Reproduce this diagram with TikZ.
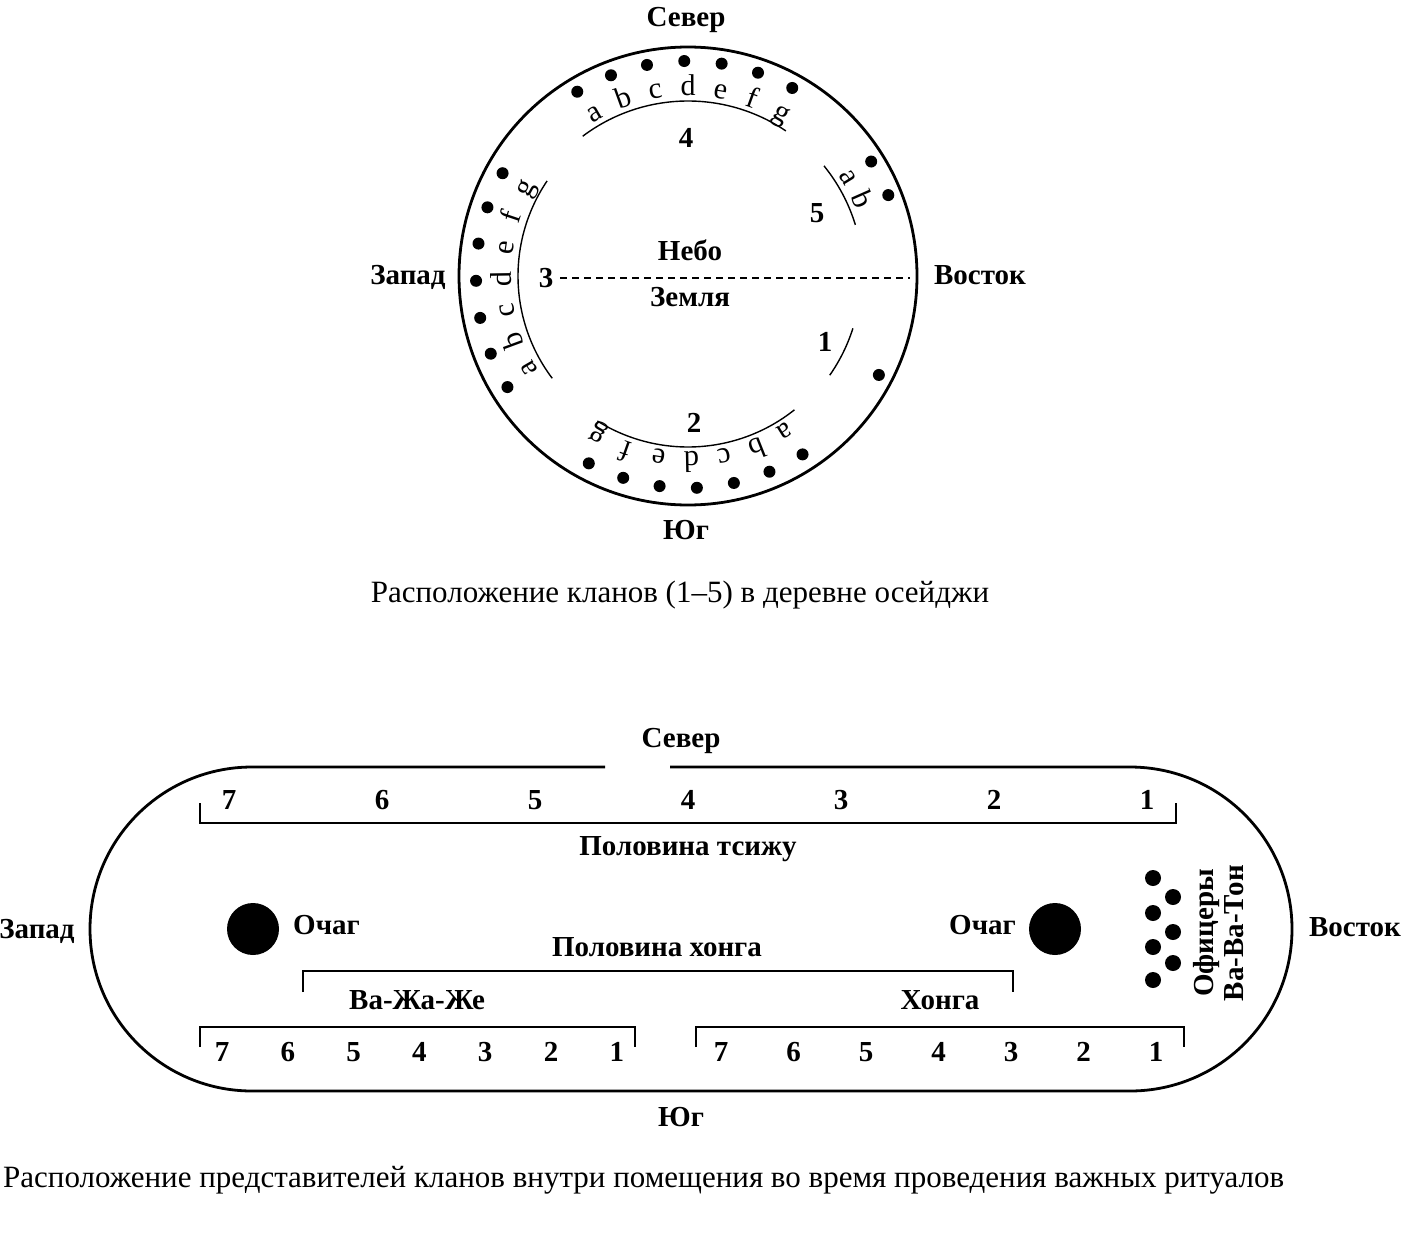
\documentclass[tikz,border=0pt]{standalone}
\usepackage{fontspec}
\setmainfont{Liberation Serif}
\usetikzlibrary{positioning, calc}

\tikzset{
  lbl/.style={font=\bfseries\fontsize{29}{32}\selectfont, inner sep=0pt, text height=19pt, text depth=6pt},
  num/.style={font=\bfseries\fontsize{29}{32}\selectfont, inner sep=0pt},
  ltr/.style={font=\fontsize{30}{33}\selectfont, inner sep=0pt, text height=20pt, text depth=6pt},
  caption/.style={font=\fontsize{31}{36}\selectfont, inner sep=0pt},
  clanarc/.style={line width=1.4pt},
  wall/.style={line width=2.8pt},
  bracket/.style={line width=1.4pt},
}

\begin{document}
\begin{tikzpicture}[x=1pt, y=1pt]
\useasboundingbox (0,0) rectangle (1412,-1236);

% village circle
\coordinate (C) at (688,-276);
\draw[wall] (C) circle[radius=229pt];
\node[lbl] (north1) at (686,-20) {Север};
\node[lbl] (south1) at (686,-533) {Юг};
\node[lbl] (west1) at (408,-278) {Запад};
\node[lbl] (east1) at (980,-278) {Восток};
\coordinate (skyW) at (560,-278);
\coordinate (skyE) at (910,-278);
\draw[line width=1.2pt, dash pattern=on 7pt off 5pt] (skyW) -- (skyE);
\node[lbl] (sky) at (690,-254) {Небо};
\node[lbl] (earth) at (690,-300) {Земля};

% clan arcs
\draw[clanarc] ($(C)+(56:175pt)$) arc[start angle=56, end angle=127, radius=175pt];
\draw[clanarc] ($(C)+(17:175pt)$) arc[start angle=17, end angle=39, radius=175pt];
\draw[clanarc] ($(C)+(-35:173pt)$) arc[start angle=-35, end angle=-17.6, radius=173pt];
\draw[clanarc] ($(C)+(-122:171pt)$) arc[start angle=-122, end angle=-51.5, radius=171pt];
\draw[clanarc] ($(C)+(146:170pt)$) arc[start angle=146, end angle=217, radius=170pt];
\node[num] (clan4) at (686,-138) {4};
\node[num] (clan5) at (817,-213) {5};
\node[num] (clan1) at (825,-342) {1};
\node[num] (clan2) at (694,-423) {2};
\node[num] (clan3) at (546,-278) {3};

% subclans
\foreach \l [count=\i] in {a,b,c,d,e,f,g} {
  \pgfmathsetmacro\ang{130-10*\i}
  \pgfmathsetmacro\dang{131-10*\i}
  \node[ltr, rotate=\ang-90] (sub4\l) at ($(C)+(\ang:187pt)$) {\l};
  \fill ($(C)+(\dang:215pt)$) circle[radius=6pt];
}
\foreach \l/\ang/\dang in {a/31.5/32, b/23.8/22} {
  \node[ltr, rotate=\ang-90] (sub5\l) at ($(C)+(\ang:188pt)$) {\l};
  \fill ($(C)+(\dang:216pt)$) circle[radius=6pt];
}
\fill ($(C)+(-27.4:215pt)$) circle[radius=6pt];
\foreach \l [count=\i] in {a,b,c,d,e,f,g} {
  \pgfmathsetmacro\ang{-58-10.3*(\i-1)}
  \pgfmathsetmacro\dang{-57.3-10.1*(\i-1)}
  \node[ltr, rotate=\ang-90] (sub2\l) at ($(C)+(\ang:183pt)$) {\l};
  \fill ($(C)+(\dang:212pt)$) circle[radius=6pt];
}
\foreach \l [count=\i] in {a,b,c,d,e,f,g} {
  \pgfmathsetmacro\ang{210-9.7*(\i-1)}
  \pgfmathsetmacro\dang{211.6-10.1*(\i-1)}
  \node[ltr, rotate=\ang-90] (sub3\l) at ($(C)+(\ang:184pt)$) {\l};
  \fill ($(C)+(\dang:212pt)$) circle[radius=6pt];
}

\node[caption] (cap1) at (680,-595) {Расположение кланов (1--5) в деревне осейджи};

% lodge
\coordinate (doorW) at (605,-767);
\coordinate (doorE) at (670,-767);
\draw[wall] (doorW) -- (252,-767) arc[start angle=90, end angle=270, radius=162pt]
  -- (1130,-1091) arc[start angle=-90, end angle=90, radius=162pt] -- (doorE);
\node[lbl] (north2) at (681,-741) {Север};
\node[lbl] (south2) at (681,-1120) {Юг};
\node[lbl] (west2) at (37,-932) {Запад};
\node[lbl] (east2) at (1355,-930) {Восток};

\draw[bracket] (200,-803) -- (200,-823) -- (1176,-823) -- (1176,-803);
\foreach \n [count=\i] in {7,6,5,4,3,2,1}
  \node[num] (tsi\n) at ({229+153*(\i-1)},-800) {\n};
\node[lbl] (tsizhu) at (688,-849) {Половина тсижу};

\fill (253,-929) circle[radius=26pt];
\fill (1055,-929) circle[radius=26pt];
\node[lbl, anchor=west] (fireW) at (293,-928) {Очаг};
\node[lbl, anchor=east] (fireE) at (1016,-928) {Очаг};

\foreach \y in {878,913,947,980}
  \fill (1153,-\y) circle[radius=8pt];
\foreach \y in {897,932,963}
  \fill (1173,-\y) circle[radius=8pt];
\node[lbl, rotate=90] (officers) at (1207,-933) {Офицеры};
\node[lbl, rotate=90] (wawaton) at (1237,-933) {Ва-Ва-Тон};

\draw[bracket] (303,-992) -- (303,-971) -- (1013,-971) -- (1013,-992);
\node[lbl] (honga) at (657,-950) {Половина хонга};

\draw[bracket] (200,-1047) -- (200,-1027) -- (635,-1027) -- (635,-1047);
\node[lbl] (wazhazhe) at (417,-1003) {Ва-Жа-Же};
\foreach \n [count=\i] in {7,6,5,4,3,2,1}
  \node[num] (wz\n) at ({222+65.8*(\i-1)},-1052) {\n};

\draw[bracket] (696,-1047) -- (696,-1027) -- (1184,-1027) -- (1184,-1047);
\node[lbl] (hongaclan) at (940,-1003) {Хонга};
\foreach \n [count=\i] in {7,6,5,4,3,2,1}
  \node[num] (hg\n) at ({721+72.5*(\i-1)},-1052) {\n};

\node[caption, anchor=west] (cap2) at (3,-1180) {Расположение представителей кланов внутри помещения во время проведения важных ритуалов};
\end{tikzpicture}
\end{document}
